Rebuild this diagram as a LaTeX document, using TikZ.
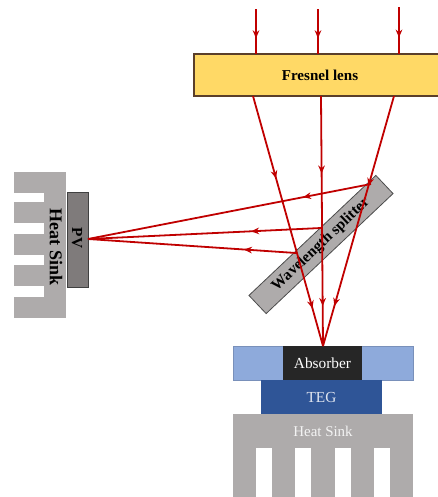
\documentclass[tikz,border=0pt]{standalone}
\usepackage{fontspec}
\setmainfont{Liberation Serif}
\usepackage{xcolor}
\usetikzlibrary{arrows.meta, positioning, decorations.markings}

\definecolor{lensyellow}{HTML}{FFD966}
\definecolor{lensedge}{HTML}{5B3F2A}
\definecolor{paleblue}{HTML}{8EAADB}
\definecolor{tegblue}{HTML}{2F5597}
\definecolor{sinkgray}{HTML}{AEABAB}
\definecolor{pvgray}{HTML}{7F7B7B}
\definecolor{raired}{HTML}{C00000}

\begin{document}
\begin{tikzpicture}[x=0.75pt, y=-0.75pt,
  part/.style={inner sep=0pt, outer sep=0pt, align=center},
  sink/.style={part, fill=sinkgray},
  notch/.style={part, fill=white},
  ray/.style={raired, line width=1.35pt},
  tip/.style={postaction={decorate}, decoration={markings,
      mark=at position #1 with {\arrow{Stealth[length=6pt, width=5pt]}}}},
  tiptwo/.style 2 args={postaction={decorate}, decoration={markings,
      mark=at position #1 with {\arrow{Stealth[length=6pt, width=5pt]}},
      mark=at position #2 with {\arrow{Stealth[length=6pt, width=5pt]}}}},
]
\useasboundingbox (0,0) rectangle (438,497);

% Lens
\node[part, draw=lensedge, line width=1pt, fill=lensyellow, minimum width=189pt, minimum height=31.5pt,
      font=\bfseries\fontsize{11.3}{13}\selectfont] (lens) at (320,75) {Fresnel lens};

% Receiver stack
\node[part, draw=paleblue!85!black, fill=paleblue, minimum width=135pt, minimum height=25.5pt] (plate) at (323,363) {};
\node[part, fill=black!85, text=white, minimum width=59pt, minimum height=25.5pt,
      font=\fontsize{11.5}{13}\selectfont] (absorber) at (322.5,363) {Absorber};
\node[part, fill=tegblue, text=white!85!tegblue, minimum width=91pt, minimum height=25.5pt,
      font=\fontsize{11.5}{13}\selectfont, below=0pt of absorber, xshift=-0.75pt] (teg) {TEG};
\node[sink, minimum width=135pt, minimum height=62.25pt, below=0pt of teg, xshift=0.75pt] (sinkteg) {};
\foreach \nx in {264,303,343,382}
  \node[notch, minimum width=12pt, minimum height=37pt] (fin\nx) at (\nx,472.5) {};
\node[part, text=white!85!sinkgray, font=\fontsize{11.2}{14}\selectfont] (sinktegtext) at (323,431) {Heat Sink};

% PV side
\node[sink, minimum width=39pt, minimum height=109.5pt] (sinkpv) at (40,245) {};
\foreach \ny/\nh in {197.5/9,228.5/11,260/10,291.5/11}
  \node[notch, minimum width=22.5pt, minimum height=\nh*0.75pt] (gap\ny) at (29,\ny) {};
\node[part, rotate=-90, font=\bfseries\fontsize{13.5}{15}\selectfont] (sinkpvtext) at (56,247) {Heat Sink};
\node[part, draw=black!75, line width=0.7pt, fill=pvgray, minimum width=15.75pt, minimum height=71.25pt] (pv) at (77.5,239.5) {};
\node[part, rotate=-90, font=\bfseries\fontsize{11.5}{13}\selectfont] (pvtext) at (77,238) {PV};

% Splitter
\node[part, draw=black!70, line width=0.6pt, fill=sinkgray, rotate=43.4, minimum width=131pt, minimum height=18.75pt,
      font=\bfseries\fontsize{11.5}{13}\selectfont] (splitter) at (321,244.5) {Wavelength splitter};

% Ray end points
\coordinate (inA) at (256,9);
\coordinate (inB) at (318,9);
\coordinate (inC) at (399,7);
\coordinate (lensA) at (256,54);
\coordinate (lensB) at (318,54);
\coordinate (lensC) at (399,54);
\coordinate (outA) at (253,96);
\coordinate (outB) at (321,96);
\coordinate (outC) at (394,96);
\coordinate (focus) at (323,346);
\coordinate (hitA) at (296,253);
\coordinate (hitB) at (321,228);
\coordinate (hitC) at (371,184);
\coordinate (pvspot) at (88,239);

\draw[ray, tip=0.65] (inA) -- (lensA);
\draw[ray, tip=0.65] (inB) -- (lensB);
\draw[ray, tip=0.65] (inC) -- (lensC);

\draw[ray, tiptwo={0.33}{0.85}] (outA) -- (focus);
\draw[ray, tiptwo={0.31}{0.84}] (outB) -- (focus);
\draw[ray, tiptwo={0.36}{0.84}] (outC) -- (focus);

\draw[ray, tip=0.25] (hitA) -- (pvspot);
\draw[ray, tip=0.30] (hitB) -- (pvspot);
\draw[ray, tip=0.24] (hitC) -- (pvspot);
\end{tikzpicture}
\end{document}
